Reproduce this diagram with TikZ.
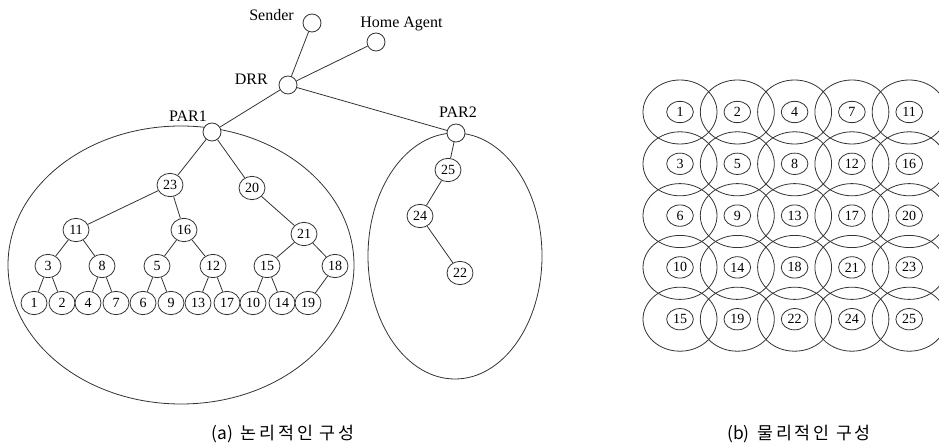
\documentclass[tikz,border=0pt]{standalone}
\usepackage{fontspec}
\setmainfont{Liberation Serif}
\newfontfamily\kr{Noto Sans CJK KR}
\newfontfamily\krs[LetterSpace=16]{Noto Sans CJK KR}
\usetikzlibrary{shapes.geometric}
\begin{document}
\begin{tikzpicture}[x=0.75pt,y=-0.75pt,
  ln/.style={draw=black!80,line width=0.6pt},
  tn/.style={ellipse,draw=black!80,line width=0.6pt,fill=white,minimum width=19.5pt,minimum height=17.5pt,inner sep=0pt,font=\fontsize{10.5}{12}\selectfont},
  rt/.style={circle,draw=black!80,line width=0.6pt,fill=white,minimum size=13.5pt,inner sep=0pt},
  lbl/.style={font=\fontsize{12}{14}\selectfont,inner sep=0pt},
  cell/.style={ellipse,draw=black!80,line width=0.6pt,minimum width=55.5pt,minimum height=48pt,inner sep=0pt},
  inn/.style={ellipse,draw=black!80,line width=0.6pt,minimum width=20pt,minimum height=16pt,inner sep=0pt,font=\fontsize{10.5}{12}\selectfont},
  captxt/.style={font=\fontsize{13}{15}\selectfont,inner sep=0pt}]
\useasboundingbox (0,0) rectangle (939,445);
% group ellipses
\draw[ln] (181,265) ellipse [x radius=173, y radius=139];
\draw[ln] (455,256) ellipse [x radius=87, y radius=123];
% routers
\node[rt] (snd) at (312,23) {};
\node[rt] (ha) at (376,42) {};
\node[rt] (drr) at (288,85) {};
\node[rt] (par1) at (212,132) {};
\node[rt] (par2) at (456,133) {};
\node[lbl,anchor=east] (lsnd) at (294,15) {Sender};
\node[lbl,anchor=west] (lha) at (360,24) {Home Agent};
\node[lbl,anchor=east] (ldrr) at (268,79) {DRR};
\node[lbl] (lpar1) at (188,116) {PAR1};
\node[lbl] (lpar2) at (458,112) {PAR2};
% left tree
\node[tn] (n23) at (170,185) {23};
\node[tn] (n20) at (252,188) {20};
\node[tn] (n11) at (76,230) {11};
\node[tn] (n16) at (184,230) {16};
\node[tn] (n21) at (304,234) {21};
\node[tn] (n3) at (48,266) {3};
\node[tn] (n8) at (102,266) {8};
\node[tn] (n5) at (157,266) {5};
\node[tn] (n12) at (213,266) {12};
\node[tn] (n15) at (267,266) {15};
\node[tn] (n18) at (335,266) {18};
\node[tn] (n1) at (34,303) {1};
\node[tn] (n2) at (62,303) {2};
\node[tn] (n4) at (88,303) {4};
\node[tn] (n7) at (116,303) {7};
\node[tn] (n6) at (143,303) {6};
\node[tn] (n9) at (171,303) {9};
\node[tn] (n13) at (198,303) {13};
\node[tn] (n17) at (227,303) {17};
\node[tn] (n10) at (253,303) {10};
\node[tn] (n14) at (282,303) {14};
\node[tn] (n19) at (308,303) {19};
% right tree
\node[tn] (n25) at (448,170) {25};
\node[tn] (n24) at (420,216) {24};
\node[tn] (n22) at (460,273) {22};
% edges
\draw[ln] (snd) -- (drr);
\draw[ln] (ha) -- (drr);
\draw[ln] (drr) -- (par1);
\draw[ln] (drr) -- (par2);
\draw[ln] (par1) -- (n23);
\draw[ln] (par1) -- (n20);
\draw[ln] (n23) -- (n11);
\draw[ln] (n23) -- (n16);
\draw[ln] (n20) -- (n21);
\draw[ln] (n11) -- (n3);
\draw[ln] (n11) -- (n8);
\draw[ln] (n16) -- (n5);
\draw[ln] (n16) -- (n12);
\draw[ln] (n21) -- (n15);
\draw[ln] (n21) -- (n18);
\draw[ln] (n3) -- (n1);
\draw[ln] (n3) -- (n2);
\draw[ln] (n8) -- (n4);
\draw[ln] (n8) -- (n7);
\draw[ln] (n5) -- (n6);
\draw[ln] (n5) -- (n9);
\draw[ln] (n12) -- (n13);
\draw[ln] (n12) -- (n17);
\draw[ln] (n15) -- (n10);
\draw[ln] (n15) -- (n14);
\draw[ln] (n18) -- (n19);
\draw[ln] (par2) -- (n25);
\draw[ln] (n25) -- (n24);
\draw[ln] (n24) -- (n22);
% grid
\foreach \lab [count=\i from 0] in {1,2,4,7,11,3,5,8,12,16,6,9,13,17,20,10,14,18,21,23,15,19,22,24,25}{
  \pgfmathtruncatemacro{\c}{mod(\i,5)}
  \pgfmathtruncatemacro{\r}{div(\i,5)}
  \node[cell] (c\lab) at (680+57.3*\c,112+51.8*\r) {};
  \node[inn] (g\lab) at (c\lab) {\lab};
}
% captions
\node[captxt] (capa) at (283,434) {{\kr(a)}\hspace{0.45em}{\krs 논리적인 구성}};
\node[captxt] (capb) at (799,434) {{\kr(b)}\hspace{0.45em}{\krs 물리적인 구성}};
\end{tikzpicture}
\end{document}
